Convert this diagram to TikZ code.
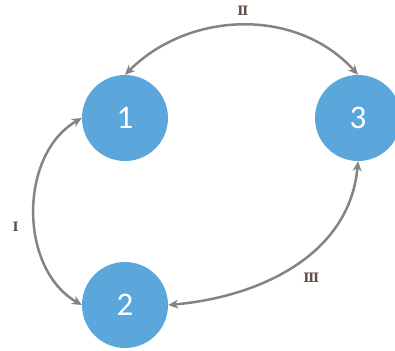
\documentclass[tikz,border=0pt]{standalone}
\usepackage{fontspec}
\setmainfont{Carlito}
\newfontfamily\romanfont{DejaVu Serif}
\usetikzlibrary{arrows.meta}
\definecolor{ballblue}{HTML}{5BA7DB}
\definecolor{linkgray}{HTML}{858383}
\definecolor{numbrown}{HTML}{5E5048}
\begin{document}
\begin{tikzpicture}[x=1pt,y=-1pt]
\tikzstyle{ball}=[circle,fill=ballblue,minimum size=86pt,inner sep=0pt,text=white,font=\fontsize{33}{33}\selectfont]
\tikzstyle{link}=[<->,>={Stealth[length=10pt,width=9pt]},draw=linkgray,line width=2.5pt]
\tikzstyle{tag}=[text=numbrown,font=\romanfont\bfseries\fontsize{13}{13}\selectfont]
    \useasboundingbox (0,0) rectangle (395,350);
    \node[ball] (a) at (125,118) {1};
    \node[ball] (b) at (125,305) {2};
    \node[ball] (c) at (358,118) {3};
    \draw [link] (a.north) to [out=45,in=132] node [tag,above=5pt] {Ⅱ} (c.north);
    \draw [link] (a.west) to [out=210,in=150] node [tag,pos=0.57,left=12pt] {Ⅰ} (b.west);
    \draw [link] (b.east) to [out=5,in=265] node [tag,pos=0.5,below right=4pt] {Ⅲ} (c.south);
\end{tikzpicture}
\end{document}
